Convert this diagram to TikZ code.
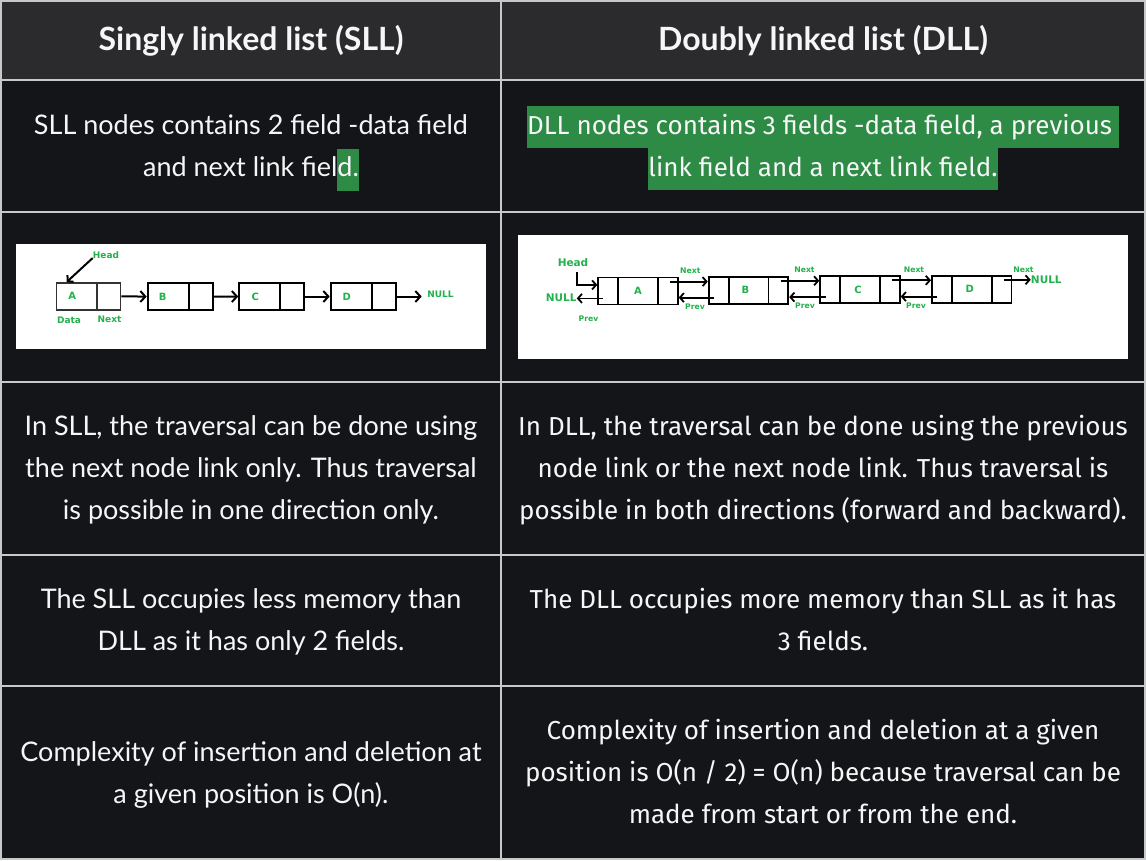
\documentclass[tikz,border=0pt]{standalone}
\usepackage{fontspec}
\setmainfont{Lato}
\newfontfamily\dllfont{Fira Sans}
\newfontfamily\lblfont{DejaVu Sans}
\usetikzlibrary{arrows.meta,shapes.multipart,positioning}
\definecolor{headbg}{RGB}{43,43,46}
\definecolor{bodybg}{RGB}{20,21,25}
\definecolor{rulegray}{RGB}{200,200,200}
\definecolor{hlgreen}{RGB}{46,139,70}
\definecolor{lblgreen}{RGB}{34,177,76}
\definecolor{txtwhite}{RGB}{246,246,246}
\newcommand{\hlline}[1]{{\setlength{\fboxsep}{0pt}\colorbox{hlgreen}{\rule[-14pt]{0pt}{42pt}#1}}}
\newcommand{\cellpart}[2]{\makebox[#1pt]{\rule[-10pt]{0pt}{27pt}#2}}

\begin{document}
\begin{tikzpicture}[x=1pt,y=-1pt,
	celltxt/.style={text=txtwhite, align=center, inner sep=0pt, font=\fontsize{27}{42}\selectfont},
	dlltxt/.style={celltxt, font=\dllfont\fontsize{26}{42}\selectfont},
	headtxt/.style={celltxt, font=\bfseries\fontsize{32}{36}\selectfont},
	ruleline/.style={draw=rulegray, line width=1.6pt},
	sllbox/.style={rectangle split, rectangle split horizontal, rectangle split parts=2,
		draw, line width=2pt, inner sep=0pt, text=lblgreen, font=\lblfont\bfseries\fontsize{10}{12}\selectfont},
	dllbox/.style={sllbox, rectangle split parts=3, line width=1.8pt},
	lbl/.style={text=lblgreen, inner sep=0pt, font=\lblfont\bfseries\fontsize{9}{11}\selectfont},
	biglbl/.style={lbl, font=\lblfont\bfseries\fontsize{10.5}{12}\selectfont},
	tinylbl/.style={lbl, font=\lblfont\bfseries\fontsize{7.7}{9}\selectfont},
	slink/.style={line width=2pt, -{Straight Barb[length=5pt,width=11pt]}},
	dlink/.style={line width=1.8pt, -{Straight Barb[length=4pt,width=9pt]}}]
	\useasboundingbox (0,0) rectangle (1146,860);

	% Table background
	\fill[bodybg] (0,0) rectangle (1146,860);
	\fill[headbg] (0,0) rectangle (1146,80);
	\draw[ruleline] (1,1) rectangle (1145,859);
	\foreach \y in {80,212,382,555,686}
		\draw[ruleline] (1,\y) -- (1145,\y);
	\draw[ruleline] (501,1) -- (501,859);

	% Header row
	\node[headtxt] (sllhead) at (251,41) {Singly linked list (SLL)};
	\node[headtxt] (dllhead) at (823,41) {Doubly linked list (DLL)};

	% Fields row
	\node[celltxt] (sllnote) at (251,153) {SLL nodes contains 2 field -data field\\and next link fiel\hlline{d.}};
	\node[dlltxt] (dllnote) at (823,148) {\hlline{DLL nodes contains 3 fields -data field, a previous\ }\\\hlline{link field and a next link field.}};

	% Picture of the SLL
	\fill[white] (16,244) rectangle (486,349);
	\node[sllbox, draw=black!80, line width=1.4pt] (sA) at (88.5,296.3) {\cellpart{40}{A\hspace{8pt}}\nodepart{two}\cellpart{23}{}};
	\node[sllbox] (sB) at (180.2,296.6) {\cellpart{40}{B\hspace{10pt}}\nodepart{two}\cellpart{23}{}};
	\node[sllbox] (sC) at (271.7,296.5) {\cellpart{40}{C\hspace{8pt}}\nodepart{two}\cellpart{23}{}};
	\node[sllbox] (sD) at (363.2,296.5) {\cellpart{40}{D\hspace{8pt}}\nodepart{two}\cellpart{23}{}};
	\draw[slink] (sA.east) -- (sB.west);
	\draw[slink] (sB.east) -- (sC.west);
	\draw[slink] (sC.east) -- (sD.west);
	\node[lbl] (snull) at (440.5,294) {NULL};
	\coordinate (snullend) at (421.7,296.5);
	\draw[slink] (sD.east) -- (snullend);
	\node[lbl] (shead) at (106,255) {Head};
	\draw[slink, -{Straight Barb[length=4pt,width=9pt]}] ([yshift=-3pt]shead.west) -- ([xshift=11pt]sA.north west);
	\node[lbl] (sdata) at (69,320) {Data};
	\node[lbl] (snext) at (109.5,319.5) {Next};

	% Picture of the DLL
	\fill[white] (518,235) rectangle (1128,359);
	\node[dllbox] (dA) at (638,291) {\cellpart{19}{}\nodepart{two}\cellpart{38}{A}\nodepart{three}\cellpart{19}{}};
	\node[dllbox] (dB) at (748.5,290.2) {\cellpart{19}{}\nodepart{two}\cellpart{38}{B\hspace{6pt}}\nodepart{three}\cellpart{19}{}};
	\node[dllbox] (dC) at (860,289.7) {\cellpart{19}{}\nodepart{two}\cellpart{38}{C\hspace{4pt}}\nodepart{three}\cellpart{19}{}};
	\node[dllbox] (dD) at (971.7,289.2) {\cellpart{19}{}\nodepart{two}\cellpart{38}{D\hspace{4pt}}\nodepart{three}\cellpart{19}{}};
	\node[biglbl] (dhead) at (573,262.3) {Head};
	\draw[dlink] ([xshift=3.7pt,yshift=-5pt]dhead.south) |- ([yshift=-8.3pt]dA.north west);
	\node[biglbl] (dnullL) at (561.2,297.3) {NULL};
	\draw[dlink] ([xshift=5.7pt,yshift=7pt]dA.south west) coordinate (pa) -- (pa -| dnullL.east);
	\node[tinylbl] (dprevA) at (588.5,318.3) {Prev};
	% next links
	\draw[dlink] ([xshift=-8.7pt,yshift=-5pt]dA.north east) coordinate (na) -- (na -| dB.west);
	\draw[dlink] ([xshift=-8.7pt,yshift=-5pt]dB.north east) coordinate (nb) -- (nb -| dC.west);
	\draw[dlink] ([xshift=-8.7pt,yshift=-5pt]dC.north east) coordinate (nc) -- (nc -| dD.west);
	\node[biglbl] (dnullR) at (1046.3,280) {NULL};
	\draw[dlink] ([xshift=-8.3pt,yshift=-5pt]dD.north east) coordinate (nd) -- (nd -| dnullR.west);
	\node[tinylbl] (dnextA) at (690.3,271) {Next};
	\node[tinylbl] (dnextB) at (804.5,269.3) {Next};
	\node[tinylbl] (dnextC) at (914,269.3) {Next};
	\node[tinylbl] (dnextD) at (1023.5,270) {Next};
	% prev links
	\draw[dlink] ([xshift=6.4pt,yshift=7pt]dB.south west) coordinate (pb) -- (pb -| dA.east);
	\draw[dlink] ([xshift=6.4pt,yshift=7pt]dC.south west) coordinate (pc) -- (pc -| dB.east);
	\draw[dlink] ([xshift=6.4pt,yshift=7pt]dD.south west) coordinate (pd) -- (pd -| dC.east);
	\node[tinylbl] (dprevB) at (695,306.3) {Prev};
	\node[tinylbl] (dprevC) at (805,306) {Prev};
	\node[tinylbl] (dprevD) at (916,306) {Prev};

	% Traversal row
	\node[celltxt] (slltrav) at (251,470) {In SLL, the traversal can be done using\\the next node link only. Thus traversal\\is possible in one direction only.};
	\node[dlltxt] (dlltrav) at (823,470) {In DLL, the traversal can be done using the previous\\node link or the next node link. Thus traversal is\\possible in both directions (forward and backward).};

	% Memory row
	\node[celltxt] (sllmem) at (251,622) {The SLL occupies less memory than\\DLL as it has only 2 fields.};
	\node[dlltxt] (dllmem) at (823,620) {The DLL occupies more memory than SLL as it has\\3 fields.};

	% Complexity row
	\node[celltxt] (sllcost) at (251,775) {Complexity of insertion and deletion at\\a given position is O(n).};
	\node[dlltxt] (dllcost) at (823,772) {Complexity of insertion and deletion at a given\\position is O(n / 2) = O(n) because traversal can be\\made from start or from the end.};
\end{tikzpicture}
\end{document}
